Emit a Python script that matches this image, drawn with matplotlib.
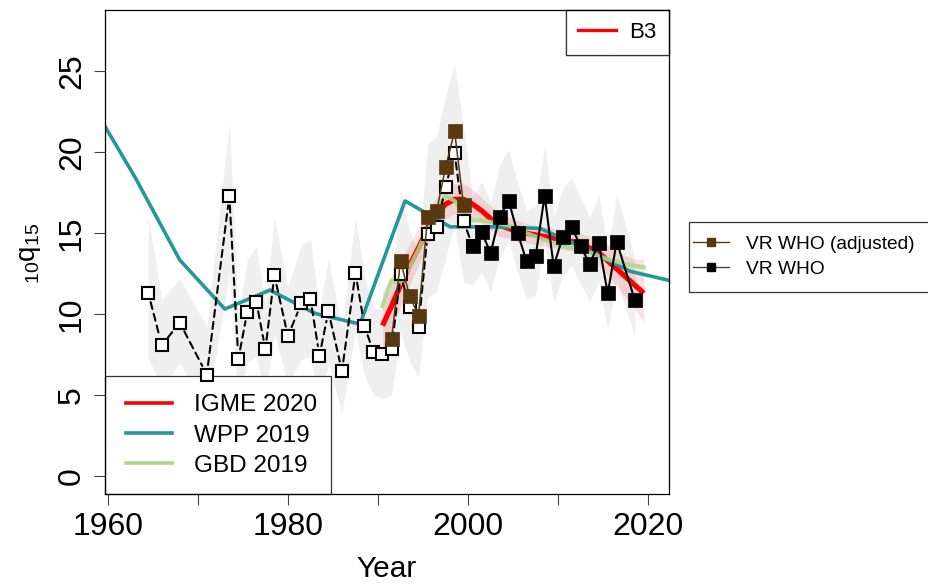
import matplotlib
matplotlib.use("Agg")
import matplotlib.pyplot as plt
from matplotlib.lines import Line2D
from matplotlib.patches import Rectangle

plt.rcParams['font.family'] = ['Liberation Sans', 'DejaVu Sans']
plt.rcParams['mathtext.fontset'] = 'custom'
plt.rcParams['mathtext.rm'] = 'Liberation Sans'
plt.rcParams['mathtext.it'] = 'Liberation Sans'

# ---------------- data ----------------
# VR raw (open squares, dashed)
vr_years = [1964.5, 1966.0, 1968.0, 1971.0, 1973.5, 1974.5, 1975.5, 1976.5, 1977.5, 1978.5,
            1980.0, 1981.5, 1982.5, 1983.5, 1984.5, 1986.0, 1987.5, 1988.5, 1989.5, 1990.5,
            1991.5, 1992.5, 1993.5, 1994.5, 1995.5, 1996.5, 1997.5, 1998.5, 1999.5, 2000.5]
vr_vals = [11.33, 8.08, 9.48, 6.27, 17.32, 7.23, 10.16, 10.77, 7.83, 12.40,
           8.65, 10.67, 10.96, 7.44, 10.18, 6.49, 12.54, 9.27, 7.65, 7.52,
           7.85, 12.48, 10.46, 9.23, 14.95, 15.36, 17.87, 19.97, 15.75, 14.21]

# VR WHO (adjusted)
adj_years = [1991.5, 1992.5, 1993.5, 1994.5, 1995.5, 1996.5, 1997.5, 1998.5, 1999.5]
adj_vals = [8.45, 13.30, 11.14, 9.91, 15.98, 16.37, 19.07, 21.31, 16.74]

# VR WHO
who_years = [2000.5, 2001.5, 2002.5, 2003.5, 2004.5, 2005.5, 2006.5, 2007.5, 2008.5, 2009.5,
             2010.5, 2011.5, 2012.5, 2013.5, 2014.5, 2015.5, 2016.5, 2018.5]
who_vals = [14.21, 15.07, 13.80, 16.02, 17.01, 15.01, 13.27, 13.61, 17.32, 12.96,
            14.77, 15.38, 14.19, 13.10, 14.40, 11.29, 14.48, 10.88]

# data uncertainty band (grey)
band_years = [1964.5, 1966.0, 1968.0, 1971.0, 1973.5, 1974.5, 1975.5, 1976.5, 1977.5, 1978.5,
              1980.0, 1981.5, 1982.5, 1983.5, 1984.5, 1986.0, 1987.5, 1988.5, 1989.5, 1990.5,
              1991.5, 1992.5, 1993.5, 1994.5, 1995.5, 1996.5, 1997.5, 1998.5, 1999.5,
              2000.5, 2001.5, 2002.5, 2003.5, 2004.5, 2005.5, 2006.5, 2007.5, 2008.5, 2009.5,
              2010.5, 2011.5, 2012.5, 2013.5, 2014.5, 2015.5, 2016.5, 2018.5]
band_lo = [7.3, 5.4, 7.0, 4.0, 12.5, 4.8, 7.0, 7.4, 5.0, 8.8,
           5.7, 7.2, 7.4, 4.7, 6.9, 3.9, 9.0, 6.2, 5.0, 4.8,
           5.0, 8.9, 7.1, 6.1, 11.0, 11.4, 13.5, 15.5, 12.0,
           11.8, 12.6, 11.4, 13.5, 14.5, 12.6, 10.9, 11.2, 14.8, 10.7,
           12.4, 13.0, 11.8, 10.8, 12.0, 9.0, 12.1, 8.6]
band_hi = [16.0, 10.9, 12.2, 9.2, 21.8, 9.9, 13.4, 14.2, 10.6, 16.0,
           11.7, 14.3, 14.6, 10.3, 13.4, 9.2, 16.0, 12.4, 10.4, 10.3,
           11.8, 17.7, 15.2, 13.7, 20.5, 21.0, 23.5, 25.5, 21.5,
           17.3, 18.2, 16.9, 19.2, 20.2, 18.1, 16.4, 16.7, 20.4, 16.0,
           17.8, 18.4, 17.2, 16.0, 17.4, 14.0, 17.4, 13.5]

# WPP 2019
wpp_years = [1958, 1963, 1968, 1973, 1978, 1983, 1988, 1993, 1998, 2003, 2008, 2013, 2018, 2023]
wpp_vals = [23.2, 18.5, 13.35, 10.32, 11.49, 10.05, 9.39, 17.0, 15.4, 15.4, 15.3, 14.05, 12.65, 12.0]

# IGME 2020 and GBD 2019 (annual)
est_years = [1990.5, 1991.5, 1992.5, 1993.5, 1994.5, 1995.5, 1996.5, 1997.5, 1998.5, 1999.5,
             2000.5, 2001.5, 2002.5, 2003.5, 2004.5, 2005.5, 2006.5, 2007.5, 2008.5, 2009.5,
             2010.5, 2011.5, 2012.5, 2013.5, 2014.5, 2015.5, 2016.5, 2017.5, 2018.5, 2019.5]
igme = [9.3, 10.5, 11.8, 13.0, 14.1, 15.3, 16.2, 16.8, 17.1, 17.1,
        16.8, 16.4, 15.9, 15.5, 15.3, 15.1, 15.0, 14.9, 14.8, 14.7,
        14.6, 14.5, 14.3, 14.1, 13.8, 13.3, 12.8, 12.3, 11.8, 11.3]
igme_lo = [7.6, 9.0, 10.5, 11.8, 13.0, 14.3, 15.3, 15.9, 16.2, 16.2,
           16.0, 15.6, 15.2, 14.8, 14.7, 14.5, 14.4, 14.3, 14.2, 14.1,
           14.0, 13.9, 13.7, 13.4, 13.0, 12.4, 11.7, 11.0, 10.3, 9.5]
igme_hi = [11.4, 12.3, 13.4, 14.3, 15.3, 16.4, 17.2, 17.8, 18.1, 18.1,
           17.7, 17.2, 16.7, 16.3, 16.0, 15.8, 15.6, 15.5, 15.4, 15.3,
           15.2, 15.1, 15.0, 14.8, 14.6, 14.3, 13.9, 13.6, 13.4, 13.4]
gbd = [10.5, 12.1, 11.9, 12.9, 14.0, 15.3, 16.6, 17.3, 17.0, 16.3,
       15.8, 15.8, 15.7, 15.6, 15.5, 15.3, 15.0, 14.8, 14.6, 14.4,
       14.2, 14.1, 13.95, 13.8, 13.6, 13.4, 13.25, 13.1, 13.0, 12.9]

x_ticks = [1960, 1970, 1980, 1990, 2000, 2010, 2020]
x_ticklabels = ['1960', '', '1980', '', '2000', '', '2020']
y_ticks = [0, 5, 10, 15, 20, 25]

# ---------------- style ----------------
TEAL = '#23979A'
RED = '#FF0000'
GREEN = '#A8D98A'
BROWN = '#5A3810'
EDGE = '#333333'

W, H = 929, 588
fig = plt.figure(figsize=(W / 100, H / 100), dpi=100)
ax = fig.add_axes([105 / W, 1 - 494 / H, (669 - 105) / W, (494 - 10) / H])

ax.fill_between(band_years, band_lo, band_hi, color='#EFEFEF', lw=0, zorder=1)
ax.fill_between(est_years, igme_lo, igme_hi, color=RED, alpha=0.12, lw=0, zorder=2)

ax.plot(est_years, igme, color=RED, lw=3.8, zorder=3, solid_capstyle='butt')
ax.plot(wpp_years, wpp_vals, color=TEAL, lw=2.6, zorder=4)
ax.plot(est_years, gbd, color=GREEN, lw=3.0, alpha=0.85, zorder=4)

# dashed raw series with gaps around points
for i in range(len(vr_years) - 1):
    ax.annotate('', xy=(vr_years[i + 1], vr_vals[i + 1]), xytext=(vr_years[i], vr_vals[i]),
                arrowprops=dict(arrowstyle='-', shrinkA=7, shrinkB=7, lw=1.5,
                                linestyle=(0, (3.4, 2.4)), color='black'),
                zorder=5)
ax.plot(vr_years, vr_vals, ls='none', marker='s', ms=8.3, mfc='white', mec='black',
        mew=1.5, zorder=6)

ax.plot(adj_years, adj_vals, color=BROWN, lw=1.1, marker='s', ms=9.8, mfc=BROWN,
        mec=BROWN, mew=0.5, zorder=7)
ax.plot(who_years, who_vals, color='black', lw=1.5, marker='s', ms=9.8, mfc='black',
        mec='black', mew=0.5, zorder=8)

ax.set_xlim(1959.7, 2022.3)
ax.set_ylim(-1.11, 28.8)
ax.set_xticks(x_ticks)
ax.set_xticklabels(x_ticklabels)
ax.set_yticks(y_ticks)
ax.set_yticklabels([str(v) for v in y_ticks], rotation=90, va='center')
ax.tick_params(axis='both', length=8, width=0.8, color='#444444', labelsize=23)
ax.tick_params(axis='x', pad=5)
ax.tick_params(axis='y', pad=5)
for s in ax.spines.values():
    s.set_linewidth(0.9)
    s.set_color('black')
    s.set_zorder(20)

fig.text(387 / W, 1 - 569 / H, 'Year', fontsize=21.5, ha='center', va='center')
fig.text(30 / W, 1 - 253 / H, r'${}_{10}\mathrm{q}_{15}$', fontsize=20,
         rotation=90, ha='center', va='center')

# ---- bottom-left legend (box + entries) ----
ax.add_patch(Rectangle((0, 0), (331 - 105) / 564, (494 - 376) / 484, transform=ax.transAxes,
                       facecolor='white', edgecolor=EDGE, lw=0.9, zorder=4.5, clip_on=False))
h1 = [Line2D([], [], color=RED, lw=2.6), Line2D([], [], color=TEAL, lw=2.6),
      Line2D([], [], color=GREEN, lw=2.6)]
leg1 = ax.legend(h1, ['IGME 2020', 'WPP 2019', 'GBD 2019'], loc='center left',
                 bbox_to_anchor=((126 - 105) / 564, (494 - 435.5) / 484),
                 fontsize=17.5, frameon=False, borderpad=0, labelspacing=0.34,
                 handlelength=1.9, handletextpad=0.9, borderaxespad=0)
leg1.set_zorder(10)
ax.add_artist(leg1)

# ---- top-right legend ----
h2 = [Line2D([], [], color=RED, lw=2.4)]
leg2 = ax.legend(h2, ['B3'], loc='upper right', bbox_to_anchor=(1, 1), fontsize=16,
                 frameon=True, fancybox=False, edgecolor=EDGE, framealpha=1,
                 borderpad=0.55, handlelength=1.7, handletextpad=0.6, borderaxespad=0)
leg2.get_frame().set_linewidth(0.9)
leg2.set_zorder(10)
ax.add_artist(leg2)

# ---- right legend outside axes ----
fig.add_artist(Rectangle((689 / W, 1 - 292 / H), 260 / W, 70 / H, transform=fig.transFigure,
                         facecolor='white', edgecolor=EDGE, lw=0.9, zorder=9))
h3 = [Line2D([], [], color=BROWN, lw=1.0, marker='s', ms=6, mfc=BROWN, mec=BROWN),
      Line2D([], [], color='#444444', lw=1.0, marker='s', ms=6, mfc='black', mec='black')]
leg3 = fig.legend(h3, ['VR WHO (adjusted)', 'VR WHO'], loc='center left',
                  bbox_to_anchor=(693 / W, 1 - 256.7 / H),
                  fontsize=13.8, frameon=False, borderpad=0, labelspacing=0.4,
                  handlelength=1.9, handletextpad=0.88, borderaxespad=0)
leg3.set_zorder(10)

fig.savefig('out.png', dpi=100)
